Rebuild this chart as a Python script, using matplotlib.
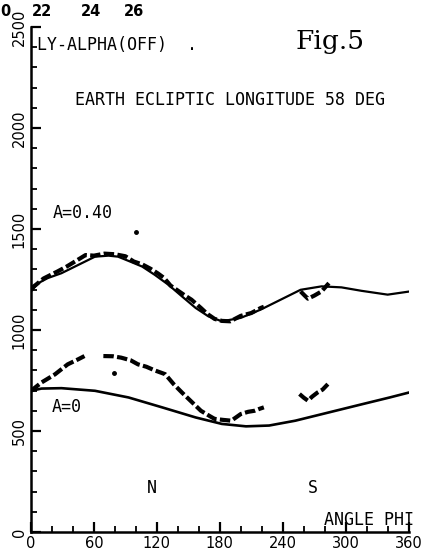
import numpy as np
import matplotlib
matplotlib.use("Agg")
import matplotlib.pyplot as plt

# model curves
fit_phi = [0, 7, 16, 29, 45, 61, 74, 83, 93, 106, 118, 131, 144, 157, 169, 182, 200,
           219, 238, 257, 277, 296, 315, 340, 360]
fit_a040 = [1191, 1232, 1257, 1281, 1322, 1363, 1368, 1363, 1342, 1314, 1273, 1224, 1166, 1109, 1068,
            1043, 1060, 1101, 1150, 1199, 1216, 1211, 1194, 1175, 1190]

fit0_phi = [0, 10, 29, 61, 93, 125, 157, 182, 205, 227, 252, 284, 316, 342, 360]
fit_a0 = [699, 710, 712, 699, 666, 617, 567, 535, 523, 527, 551, 592, 633, 666, 690]

# observed counts, upper set (nan = gap)
obs_hi_phi = [0, 5, 12, 25, 34, 47, 52, 60, 70, 80, 90, 98, 106, 114, 121, 127, 133, 140, 147, 153,
              162, 168, 175, 182, 190, 200, 210, 219, 222, np.nan, 257, 261, 264, 270, 277, 284]
obs_hi = [1206, 1225, 1255, 1289, 1314, 1355, 1371, 1368, 1378, 1375, 1365, 1339, 1325, 1303, 1280, 1257,
          1220, 1195, 1170, 1150, 1109, 1080, 1055, 1045, 1043, 1070, 1084, 1109, 1115, np.nan,
          1191, 1170, 1155, 1170, 1191, 1232]

# observed counts, lower set
obs_lo_phi = [0, 10, 23, 35, 45, 51, np.nan, 69, 78, 86, 95, 102, 110, 118, 128, 136, 144, 152, 162,
              170, 175, 183, 191, 200, 207, 213, 218, 222, np.nan, 256, 260, 264, 268, 273, 278, 283]
obs_lo = [699, 740, 781, 830, 855, 871, np.nan, 871, 870, 863, 850, 830, 818, 800, 781, 732, 690, 650,
          600, 575, 560, 555, 551, 584, 595, 600, 610, 617, np.nan, 683, 665, 650, 670, 690, 705, 732]

stray_phi = [100, 79]
stray_val = [1486, 789]

xticks = [0, 60, 120, 180, 240, 300, 360]
yticks = [0, 500, 1000, 1500, 2000, 2500]

fig = plt.figure(figsize=(4.21, 5.51), dpi=100)
ax = fig.add_axes([0.0736, 0.0345, 0.897, 0.9165])

ax.plot(fit_phi, fit_a040, color="black", lw=1.6)
ax.plot(fit0_phi, fit_a0, color="black", lw=1.9)
ax.plot(obs_hi_phi, obs_hi, color="black", lw=3, dashes=(2.5, 0.8))
ax.plot(obs_lo_phi, obs_lo, color="black", lw=3, dashes=(2.5, 0.8))
ax.plot(stray_phi, stray_val, "o", color="black", ms=2.5)

ax.set_xlim(0, 360)
ax.set_ylim(0, 2500)
ax.spines["top"].set_visible(False)
ax.spines["right"].set_visible(False)
ax.spines["left"].set_linewidth(1.8)
ax.spines["bottom"].set_linewidth(1.8)
ax.set_xticks(xticks)
ax.set_yticks(yticks)
ax.set_xticks(np.arange(0, 361, 20), minor=True)
ax.set_yticks(np.arange(0, 2501, 100), minor=True)
ax.tick_params(which="major", direction="in", length=7, width=1.6, labelsize=10.5, pad=3)
ax.tick_params(which="minor", direction="in", length=4, width=1.3)
for lab in ax.get_yticklabels():
    lab.set_rotation(90)
    lab.set_va("center")

mono = "DejaVu Sans Mono"
fig.text(75 / 421, 1 - 100 / 551, "EARTH ECLIPTIC LONGITUDE 58 DEG", fontsize=12, family=mono, va="center")
fig.text(37 / 421, 1 - 45 / 551, "LY-ALPHA(OFF)  .", fontsize=12, family=mono, va="center")
fig.text(330 / 421, 1 - 42 / 551, "Fig.5", fontsize=19, family="DejaVu Serif", va="center", ha="center")
fig.text(53 / 421, 1 - 213 / 551, "A=0.40", fontsize=12, family=mono, va="center")
fig.text(52 / 421, 1 - 407 / 551, "A=0", fontsize=12, family=mono, va="center")
fig.text(152 / 421, 1 - 488 / 551, "N", fontsize=12, family=mono, va="center", ha="center")
fig.text(313 / 421, 1 - 488 / 551, "S", fontsize=12, family=mono, va="center", ha="center")
fig.text(414 / 421, 1 - 520 / 551, "ANGLE PHI", fontsize=12, family=mono, va="center", ha="right")

# fragments of the neighbouring figure's scale at the top edge
fig.text(0, 1 - 11 / 551, "0", fontsize=10.5, fontweight="bold", va="center", ha="left")
for xp, s in [(42, "22"), (91, "24"), (134, "26")]:
    fig.text(xp / 421, 1 - 11 / 551, s, fontsize=10.5, fontweight="bold", va="center", ha="center")

fig.savefig("out.png", dpi=100)
